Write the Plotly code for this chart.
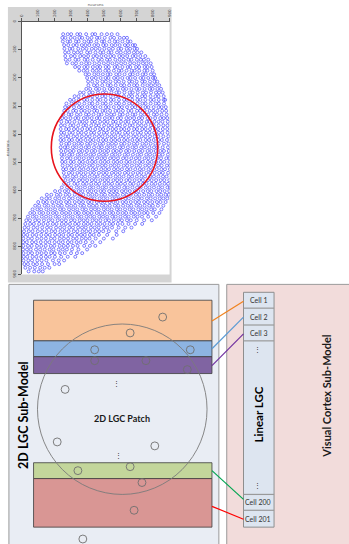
import plotly.graph_objects as go

W, H = 349, 544

# ---------------- scatter data (neuron positions) ----------------
axis_ticks = [0, 100, 200, 300, 400, 500, 600, 700, 800, 900]
axis_title = "neurons"

neuron_row_y = [44, 57, 70, 83, 96, 109, 122, 135, 148, 161, 174, 187, 200, 213, 226,
                239, 252, 265, 278, 291, 304, 317, 330, 343, 356, 369, 382, 395, 408,
                421, 434, 447, 460, 473, 486, 499, 512, 525, 538, 551, 564, 577, 590,
                603, 616, 629, 642, 655, 668, 681, 694, 707, 720, 733, 746, 759, 772,
                785, 798, 811, 824, 837, 850, 863, 876, 889]

neuron_row_x = [
    [252, 280, 301, 338, 356, 392, 430, 447, 486, 519, 548, 583],
    [247, 266, 298, 322, 351, 368, 401, 425, 458, 473, 505, 540, 562, 597, 622, 641],
    [250, 279, 295, 330, 347, 381, 406, 422, 455, 488, 502, 534, 566, 584, 613, 645, 662],
    [258, 283, 314, 335, 366, 388, 411, 442, 465, 496, 515, 548, 570, 596, 628, 647, 676, 690],
    [260, 292, 309, 344, 372, 394, 427, 450, 474, 503, 531, 555, 588, 606, 639, 660, 687, 702],
    [264, 286, 318, 340, 362, 398, 417, 449, 478, 497, 528, 546, 580, 603, 631, 654, 683, 705, 728],
    [265, 300, 323, 356, 379, 404, 436, 458, 485, 512, 540, 561, 594, 616, 642, 675, 694, 722, 752],
    [268, 291, 327, 346, 383, 401, 432, 466, 488, 519, 537, 570, 596, 621, 649, 668, 701, 725, 744, 770],
    [275, 309, 331, 364, 392, 413, 444, 471, 500, 526, 552, 579, 605, 630, 660, 684, 711, 738, 760, 785],
    [325, 349, 381, 401, 433, 459, 478, 511, 530, 566, 584, 613, 645, 661, 696, 715, 748, 766, 791],
    [350, 377, 399, 432, 455, 478, 509, 530, 561, 591, 608, 638, 669, 688, 715, 747, 765, 797],
    [389, 410, 442, 466, 494, 523, 541, 575, 596, 626, 659, 676, 705, 736, 755, 786, 806],
    [398, 427, 451, 480, 510, 528, 562, 585, 612, 644, 662, 690, 723, 741, 770, 799, 812],
    [404, 429, 460, 491, 512, 540, 571, 592, 621, 654, 672, 700, 733, 750, 781, 808, 825],
    [406, 440, 460, 490, 523, 542, 572, 604, 624, 654, 684, 703, 736, 765, 788, 812, 837],
    [393, 417, 452, 473, 503, 536, 555, 585, 616, 637, 668, 698, 717, 748, 779, 797, 826, 848],
    [355, 377, 411, 432, 464, 494, 514, 546, 576, 594, 625, 657, 676, 706, 737, 757, 787, 817, 836, 858],
    [322, 346, 378, 408, 430, 459, 490, 510, 541, 572, 590, 622, 652, 672, 703, 733, 752, 784, 814, 833, 864],
    [294, 317, 347, 380, 399, 430, 460, 479, 511, 542, 560, 592, 623, 641, 673, 704, 722, 753, 784, 804, 834, 864, 873],
    [272, 303, 326, 350, 381, 412, 430, 461, 493, 512, 542, 574, 593, 623, 654, 674, 705, 735, 754, 785, 816, 835, 866],
    [264, 287, 318, 348, 368, 399, 429, 448, 479, 511, 529, 560, 591, 610, 641, 672, 691, 722, 753, 771, 803, 833, 852, 877],
    [259, 280, 313, 331, 362, 384, 412, 441, 459, 492, 510, 538, 571, 590, 616, 649, 668, 702, 721, 748, 779, 801, 826, 855, 879],
    [253, 286, 303, 336, 358, 391, 409, 437, 468, 486, 519, 544, 563, 597, 615, 644, 675, 692, 725, 747, 770, 804, 823, 851, 882],
    [246, 269, 297, 326, 345, 378, 401, 426, 457, 474, 506, 533, 552, 585, 604, 637, 660, 684, 713, 733, 766, 784, 812, 843, 865, 886],
    [241, 274, 292, 321, 352, 371, 395, 428, 446, 477, 502, 523, 556, 573, 604, 631, 650, 683, 703, 730, 761, 778, 808, 833, 857, 889],
    [239, 262, 296, 315, 344, 375, 393, 423, 452, 470, 501, 528, 549, 580, 598, 628, 657, 676, 707, 729, 755, 786, 804, 834, 862, 887],
    [237, 270, 287, 318, 340, 368, 399, 418, 447, 477, 496, 526, 553, 574, 605, 625, 652, 684, 702, 733, 754, 781, 811, 830, 859, 886],
    [240, 258, 290, 311, 343, 364, 391, 422, 441, 471, 500, 519, 550, 577, 597, 629, 648, 676, 706, 726, 757, 778, 806, 835, 856, 888],
    [238, 266, 284, 315, 337, 366, 392, 414, 444, 470, 492, 522, 547, 570, 601, 622, 650, 679, 701, 730, 753, 781, 809, 831, 862, 892],
    [236, 256, 288, 306, 338, 360, 388, 416, 437, 466, 495, 514, 545, 569, 593, 623, 645, 673, 702, 722, 754, 775, 803, 832, 853, 884],
    [241, 271, 290, 320, 345, 367, 398, 419, 447, 475, 496, 527, 550, 574, 605, 626, 655, 683, 704, 735, 758, 785, 813, 834, 866, 893],
    [237, 262, 280, 311, 333, 362, 389, 410, 440, 467, 488, 518, 541, 566, 597, 617, 646, 674, 696, 727, 750, 777, 805, 826, 858, 890],
    [240, 268, 294, 316, 348, 370, 397, 426, 448, 478, 503, 526, 557, 579, 604, 635, 656, 685, 713, 735, 766, 789, 816, 844, 866, 895],
    [242, 260, 289, 309, 341, 363, 391, 418, 440, 470, 495, 518, 549, 571, 596, 627, 648, 677, 705, 727, 758, 781, 808, 836, 858, 890],
    [245, 276, 297, 328, 351, 378, 407, 429, 459, 485, 507, 538, 561, 586, 617, 638, 667, 695, 717, 748, 771, 798, 826, 848, 880, 899],
    [246, 266, 298, 317, 350, 372, 400, 428, 449, 480, 505, 527, 559, 581, 606, 637, 658, 687, 716, 737, 768, 791, 818, 846, 868, 900],
    [249, 279, 301, 332, 356, 382, 411, 433, 463, 489, 511, 542, 565, 590, 621, 642, 671, 699, 721, 752, 775, 802, 830, 852, 884, 903],
    [252, 270, 302, 322, 353, 376, 404, 432, 453, 484, 509, 531, 562, 585, 610, 641, 662, 691, 719, 741, 772, 795, 822, 850, 872, 902],
    [256, 287, 308, 339, 362, 389, 418, 440, 470, 496, 518, 549, 572, 597, 628, 649, 678, 706, 728, 759, 782, 809, 837, 859, 891],
    [260, 281, 311, 332, 364, 386, 414, 442, 463, 494, 519, 541, 572, 595, 620, 651, 672, 701, 729, 751, 782, 805, 832, 860, 882],
    [266, 296, 317, 349, 372, 398, 427, 449, 479, 505, 527, 558, 581, 606, 637, 658, 687, 715, 737, 768, 791, 818, 846, 868, 898],
    [258, 284, 320, 341, 373, 395, 423, 451, 472, 503, 528, 550, 581, 604, 629, 660, 681, 710, 738, 760, 791, 814, 841, 869, 891],
    [244, 276, 301, 335, 358, 385, 414, 436, 466, 492, 514, 545, 568, 593, 624, 645, 674, 702, 724, 755, 778, 805, 833, 855, 887, 904],
    [203, 232, 262, 284, 318, 347, 370, 402, 424, 451, 480, 501, 532, 557, 579, 610, 633, 658, 689, 710, 739, 767, 789, 820, 843, 870, 898],
    [153, 180, 214, 236, 268, 290, 323, 352, 375, 406, 430, 456, 485, 507, 538, 562, 585, 616, 639, 664, 695, 716, 745, 773, 795, 826, 849, 876, 895],
    [122, 150, 171, 204, 228, 257, 288, 310, 341, 366, 391, 421, 443, 474, 498, 521, 552, 575, 600, 631, 652, 681, 709, 731, 762, 785, 812, 840, 862, 886],
    [100, 131, 153, 186, 212, 239, 270, 291, 323, 349, 373, 404, 426, 457, 481, 504, 535, 558, 583, 614, 635, 664, 692, 714, 745, 768, 795, 823, 845, 876],
    [82, 106, 139, 162, 192, 221, 244, 276, 301, 326, 357, 379, 410, 434, 457, 488, 511, 536, 567, 588, 617, 645, 667, 698, 721, 748, 776, 798, 829, 862],
    [66, 95, 118, 150, 176, 203, 234, 256, 288, 313, 338, 369, 391, 422, 446, 469, 500, 523, 548, 579, 600, 629, 657, 679, 710, 733, 760, 788, 810, 850],
    [52, 76, 108, 131, 161, 190, 213, 245, 270, 295, 326, 348, 379, 403, 426, 457, 480, 505, 536, 557, 586, 614, 636, 667, 690, 717, 745, 767, 800, 838],
    [38, 67, 90, 122, 148, 175, 206, 228, 260, 285, 310, 341, 363, 394, 418, 441, 472, 495, 520, 551, 572, 601, 629, 651, 682, 705, 732, 770, 818],
    [28, 50, 82, 105, 135, 164, 187, 219, 244, 269, 300, 322, 353, 377, 400, 431, 454, 479, 510, 531, 560, 588, 610, 641, 664, 700, 745, 792],
    [22, 51, 74, 106, 132, 159, 190, 212, 244, 269, 294, 325, 347, 378, 402, 425, 456, 479, 504, 535, 556, 585, 613, 650, 690, 733],
    [18, 40, 72, 95, 125, 154, 177, 209, 234, 259, 290, 312, 343, 367, 390, 421, 444, 469, 500, 521, 550, 590, 630, 668],
    [14, 43, 66, 98, 124, 151, 182, 204, 236, 261, 286, 317, 339, 370, 394, 417, 448, 471, 496, 530, 575, 618],
    [12, 34, 66, 89, 119, 148, 171, 203, 228, 253, 284, 306, 337, 361, 384, 415, 438, 470, 520, 578],
    [10, 39, 62, 94, 120, 147, 178, 200, 232, 257, 282, 313, 335, 366, 390, 413, 450, 500, 555],
    [9, 31, 63, 86, 116, 145, 168, 200, 225, 250, 281, 303, 334, 358, 390, 430, 478],
    [10, 38, 61, 93, 119, 146, 177, 199, 231, 256, 281, 312, 340, 380, 415, 448],
    [8, 32, 55, 87, 112, 140, 170, 193, 225, 250, 275, 306, 345, 398],
    [11, 40, 63, 95, 121, 148, 179, 201, 233, 262, 300, 336, 368],
    [12, 34, 66, 89, 118, 147, 170, 202, 240, 280, 326],
    [11, 40, 63, 95, 121, 150, 190, 225, 258],
    [16, 38, 70, 93, 124, 160, 200, 228],
    [22, 51, 80, 112, 140, 168],
    [42, 76, 104, 128],
]

# red selection circle (data units): centre and half-widths
patch_cx, patch_cy = 504, 448
patch_rx, patch_ry = 324, 191

# ---------------- diagram texts ----------------
left_title = "2D LGC Sub-Model"
right_title = "Visual Cortex Sub-Model"
column_title = "Linear LGC"
patch_title = "2D LGC Patch"
cell_labels = ["Cell 1", "Cell 2", "Cell 3", "Cell 200", "Cell 201"]

FONT = "Lato, Open Sans, sans-serif"


def X(px):
    return px / W


def Y(py):
    return 1 - py / H


xs, ys = [], []
for yv, row in zip(neuron_row_y, neuron_row_x):
    for xv in row:
        xs.append(xv)
        ys.append(yv)

fig = go.Figure()
fig.add_trace(go.Scatter(
    x=xs, y=ys, mode="markers",
    marker=dict(symbol="circle-open", size=3.0, color="rgba(35,35,250,0.75)",
                line=dict(width=0.75)),
    hoverinfo="skip", showlegend=False))

shapes = []


def rect(x0, y0, x1, y1, fill, line="rgba(0,0,0,0)", lw=0, layer="above"):
    shapes.append(dict(type="rect", xref="paper", yref="paper",
                       x0=X(x0), x1=X(x1), y0=Y(y1), y1=Y(y0),
                       fillcolor=fill, line=dict(color=line, width=lw), layer=layer))


def circ(cx, cy, r, color="#7f7f7f", lw=0.9):
    shapes.append(dict(type="circle", xref="paper", yref="paper",
                       x0=X(cx - r), x1=X(cx + r), y0=Y(cy + r), y1=Y(cy - r),
                       line=dict(color=color, width=lw), fillcolor="rgba(0,0,0,0)"))


def seg(x0, y0, x1, y1, color, lw=1.2):
    shapes.append(dict(type="line", xref="paper", yref="paper",
                       x0=X(x0), x1=X(x1), y0=Y(y0), y1=Y(y1),
                       line=dict(color=color, width=lw)))


# top panel frame
rect(5, 5, 171, 283, "#d4d4d4", layer="below")
rect(19, 20, 169, 275, "#ffffff", layer="below")

# red circle on scatter (data coords)
shapes.append(dict(type="circle", xref="x", yref="y",
                   x0=patch_cx - patch_rx, x1=patch_cx + patch_rx,
                   y0=patch_cy - patch_ry, y1=patch_cy + patch_ry,
                   line=dict(color="#e8141c", width=1.6)))

# bottom boxes
rect(6, 285, 219, 550, "#e9edf4", "#9a9a9a", 1)
rect(227, 285, 355, 550, "#f2dcdb", "#9a9a9a", 1)

# stripes
stripe_edge = "#3c3c3c"
rect(31, 301, 212, 342, "#f9c49b", stripe_edge, 0.8)
rect(31, 342, 212, 358, "#8db4e2", stripe_edge, 0.8)
rect(31, 358, 212, 375, "#8064a2", stripe_edge, 0.8)
rect(31, 465, 212, 481, "#c3d69b", stripe_edge, 0.8)
rect(31, 481, 212, 530, "#d99694", stripe_edge, 0.8)

# big patch circle
circ(121, 411, 86, "#7a7a7a", 0.9)

# small neuron circles
for cx, cy in [(162, 318), (129, 334), (93, 351), (190, 351), (93, 362),
               (145, 362), (187, 371), (63, 391), (55, 444), (154, 448),
               (76, 473), (129, 469), (141, 485), (133, 513), (81, 542)]:
    circ(cx, cy, 4, "#6f6f6f", 0.9)

# linear LGC column
rect(244, 293, 275, 530, "#dde5f0", "#8e8e8e", 1)
for yy in [309, 326, 342, 497, 513]:
    seg(244, yy, 275, yy, "#9a9a9a", 1.2)

# connectors
seg(212, 322, 244, 302, "#f0821e")
seg(212, 350, 244, 318, "#5b9bd5")
seg(212, 367, 244, 335, "#7030a0")
seg(212, 473, 244, 502, "#00a550")
seg(212, 509, 244, 522, "#ff0000")

ann = []


def text(x, y, s, size, bold=False, angle=0, color="#1a1a1a"):
    ann.append(dict(x=X(x), y=Y(y), xref="paper", yref="paper", text=s,
                    showarrow=False, textangle=angle, xanchor="center", yanchor="middle",
                    font=dict(family=FONT, size=size, color=color,
                              weight="bold" if bold else "normal")))


text(20, 417, left_title, 12.5, True, -90, "#000000")
text(328, 398, right_title, 11, True, -90, "#1a1a1a")
text(259, 416, column_title, 11.5, True, -90, "#000000")
text(121, 420, patch_title, 9, True)
for lab, cy in zip(cell_labels, [301, 317.5, 334, 505, 521.5]):
    text(259, cy, lab, 7, False, 0, "#333333")
for dx, dy in [(258, 350), (258, 487), (115, 385), (117, 457)]:
    text(dx, dy, "⋮", 7, False, 0, "#333333")

tick_text = [str(v) for v in axis_ticks]

fig.update_layout(
    width=W, height=H, margin=dict(l=0, r=0, t=0, b=0),
    paper_bgcolor="#ffffff", plot_bgcolor="rgba(0,0,0,0)",
    shapes=shapes, annotations=ann, showlegend=False,
    xaxis=dict(domain=[X(19), X(169)], range=[0, 900], side="top",
               showgrid=False, zeroline=False, showline=True, linecolor="#555555",
               linewidth=1, ticks="outside", ticklen=3, tickcolor="#555555",
               tickvals=axis_ticks, ticktext=tick_text, tickangle=-90,
               tickfont=dict(size=4, color="#444444", family="DejaVu Sans"),
               title=dict(text=axis_title, font=dict(size=4, color="#444444"), standoff=2)),
    yaxis=dict(domain=[Y(275), Y(20)], range=[900, 0],
               showgrid=False, zeroline=False, showline=True, linecolor="#555555",
               linewidth=1, ticks="outside", ticklen=3, tickcolor="#555555",
               tickvals=axis_ticks, ticktext=tick_text, tickangle=-90,
               tickfont=dict(size=4, color="#444444", family="DejaVu Sans"),
               title=dict(text=axis_title, font=dict(size=4, color="#444444"), standoff=2)),
)

fig.write_html("out.html", config={"displayModeBar": False},
               post_script="document.body.style.margin='0';")
